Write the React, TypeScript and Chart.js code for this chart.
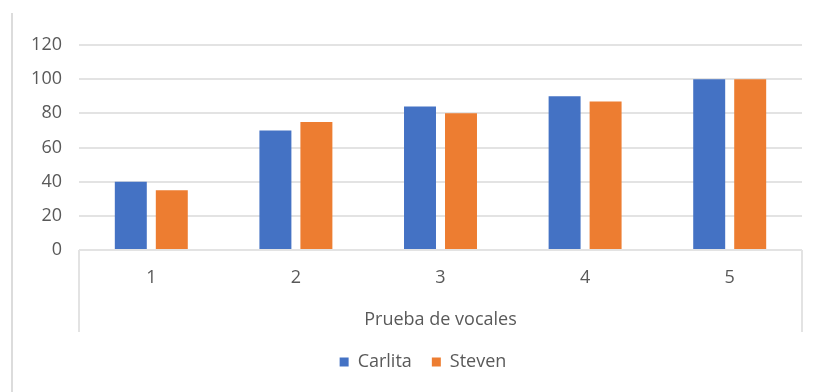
import React, { useEffect, useRef } from "react";
import { Chart, registerables } from "chart.js";

Chart.register(...registerables);

const categories = ["1", "2", "3", "4", "5"];
const carlita = [40, 70, 84, 90, 100];
const steven = [35, 75, 80, 87, 100];
const seriesNames = ["Carlita", "Steven"];
const axisTitle = "Prueba de vocales";
const yMin = 0;
const yMax = 120;
const yStep = 20;

const FONT = "'Open Sans', 'Lato', sans-serif";
const TEXT = "#595959";
const GRID = "#e3e3e3";
const FS = 18;

const framePlugin = {
  id: "excelFrame",
  beforeDraw(chart: any) {
    const ctx = chart.ctx;
    ctx.save();
    ctx.strokeStyle = "#dcdcdc";
    ctx.lineWidth = 2;
    ctx.beginPath();
    ctx.moveTo(12, 13);
    ctx.lineTo(12, chart.height);
    ctx.stroke();
    ctx.restore();
  },
  afterDraw(chart: any) {
    const x = chart.scales.x;
    const ctx = chart.ctx;
    ctx.save();
    ctx.strokeStyle = GRID;
    ctx.lineWidth = 2;
    ctx.beginPath();
    ctx.moveTo(x.left, x.top);
    ctx.lineTo(x.left, x.bottom - 1);
    ctx.moveTo(x.right, x.top);
    ctx.lineTo(x.right, x.bottom - 1);
    ctx.stroke();
    ctx.restore();
  },
};

export default function App() {
  const ref = useRef<HTMLCanvasElement>(null);
  useEffect(() => {
    if (!ref.current) return;
    const chart = new Chart(ref.current, {
      type: "bar",
      data: {
        labels: categories,
        datasets: [
          {
            label: seriesNames[0],
            data: carlita,
            backgroundColor: "#4472C4",
            categoryPercentage: 0.567,
            barPercentage: 0.78,
          },
          {
            label: seriesNames[1],
            data: steven,
            backgroundColor: "#ED7D31",
            categoryPercentage: 0.567,
            barPercentage: 0.78,
          },
        ],
      },
      options: {
        responsive: false,
        animation: false,
        devicePixelRatio: 1,
        layout: { padding: { top: 45, left: 44, right: 12, bottom: 11 } },
        plugins: {
          tooltip: { enabled: false },
          legend: {
            position: "bottom",
            labels: {
              boxWidth: 9,
              boxHeight: 9,
              padding: 20,
              color: TEXT,
              font: { family: FONT, size: FS },
            },
          },
        },
        scales: {
          x: {
            grid: { display: false, drawTicks: false },
            border: { display: false },
            ticks: { color: TEXT, padding: 17, font: { family: FONT, size: FS } },
            title: {
              display: true,
              text: axisTitle,
              color: TEXT,
              padding: { top: 0, bottom: 2 },
              font: { family: FONT, size: FS },
            },
            afterFit(scale: any) {
              scale.height = 83;
            },
          },
          y: {
            min: yMin,
            max: yMax,
            ticks: { stepSize: yStep, color: TEXT, padding: 17, font: { family: FONT, size: FS } },
            grid: { color: GRID, lineWidth: 2, drawTicks: false },
            border: { display: false },
            afterFit(scale: any) {
              scale.width = 35;
              scale._computeLabelArea = () => undefined;
            },
          },
        },
      },
      plugins: [framePlugin],
    });
    return () => chart.destroy();
  }, []);
  return (
    <div style={{ position: "absolute", left: 0, top: 0, width: 814, height: 392, background: "#fff" }}>
      <canvas ref={ref} width={814} height={392} />
    </div>
  );
}
